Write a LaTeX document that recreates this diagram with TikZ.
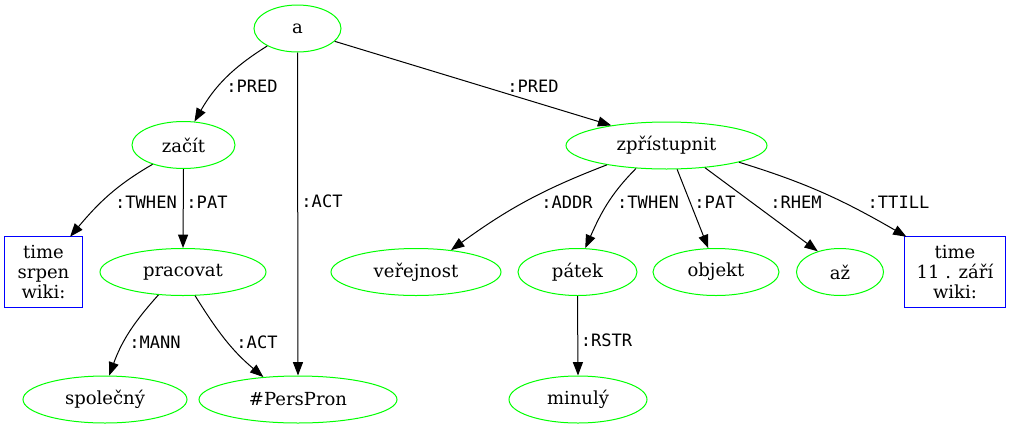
\documentclass[tikz,border=0pt]{standalone}
\usepackage{fontspec}
\setmainfont{DejaVu Serif}
\newfontfamily\lblfont{DejaVu Sans Mono}
\usetikzlibrary{shapes.geometric,arrows.meta}
\definecolor{ngreen}{RGB}{0,255,0}
\definecolor{nblue}{RGB}{0,0,255}
\tikzset{
  word/.style={ellipse,draw=ngreen,line width=0.75pt,inner sep=0pt,minimum height=35.25pt,font=\fontsize{13.5pt}{15pt}\selectfont},
  tbox/.style={rectangle,inner sep=0pt,minimum height=52.5pt,align=center,font=\fontsize{13.5pt}{15pt}\selectfont},
  boxline/.style={draw=nblue,line width=0.75pt},
  edge/.style={line width=0.75pt,-{Triangle[length=10pt,width=7.5pt]}},
  lbl/.style={font=\lblfont\fontsize{12.8pt}{14pt}\selectfont,inner sep=0pt}
}
\begin{document}
\begin{tikzpicture}[x=0.75pt,y=-0.75pt]
\useasboundingbox (0,0) rectangle (1011,429);
% nodes
\node[word,minimum width=65.25pt] (a) at (297.5,28.5) {a};
\node[word,minimum width=77.25pt] (zacit) at (183.5,145) {začít};
\node[word,minimum width=150.75pt] (zpr) at (666.5,145.5) {zpřístupnit};
\node[tbox,minimum width=57.75pt] (srpen) at (43.5,272) {time\\srpen\\wiki:};
\node[word,minimum width=124.5pt] (prac) at (183,272) {pracovat};
\node[word,minimum width=127.5pt] (ver) at (416,272) {veřejnost};
\node[word,minimum width=89.25pt] (patek) at (577.5,272) {pátek};
\node[word,minimum width=94.5pt] (objekt) at (716,272) {objekt};
\node[word,minimum width=65.25pt] (az) at (840,272) {až};
\node[tbox,minimum width=75pt] (zari) at (955,272) {time\\11 . září\\wiki:};
\node[word,minimum width=123pt] (spol) at (105,399.5) {společný};
\node[word,minimum width=148.5pt] (pers) at (298,399.5) {\#PersPron};
\node[word,minimum width=103.5pt] (minuly) at (578,399.5) {minulý};
\draw[boxline] (srpen.north west) rectangle (srpen.south east);
\draw[boxline] (zari.north west) rectangle (zari.south east);
% edges
\draw[edge] (a.210) to[out=212,in=60] (zacit.65);
\draw[edge] (a.south) -- (pers.north);
\draw[edge] (a.341) -- (zpr.160);
\draw[edge] (zacit.212) to[out=210,in=50] (srpen.53);
\draw[edge] (zacit.south) -- (prac.north);
\draw[edge] (prac.223) to[out=228,in=70] (spol.80);
\draw[edge] (prac.297) to[out=-58,in=140] (pers.147);
\draw[edge] (zpr.198) to[out=201,in=36] (ver.32);
\draw[edge] (zpr.217) to[out=225,in=66] (patek.72);
\draw[edge] (zpr.294) -- (objekt.108);
\draw[edge] (zpr.330) -- (az.137);
\draw[edge] (zpr.347) to[out=-17,in=150] (zari.144);
\draw[edge] (patek.south) -- (minuly.north);
% labels
\node[lbl] (l1) at (252,86) {:PRED};
\node[lbl] (l2) at (533,86) {:PRED};
\node[lbl] (l3) at (322,201) {:ACT};
\node[lbl] (l4) at (146,202) {:TWHEN};
\node[lbl] (l5) at (207,202) {:PAT};
\node[lbl] (l6) at (155,342) {:MANN};
\node[lbl] (l7) at (257,342) {:ACT};
\node[lbl] (l8) at (567,202) {:ADDR};
\node[lbl] (l9) at (648,202) {:TWHEN};
\node[lbl] (l10) at (715,202) {:PAT};
\node[lbl] (l11) at (796,202) {:RHEM};
\node[lbl] (l12) at (898.5,202) {:TTILL};
\node[lbl] (l13) at (606.5,340) {:RSTR};
\end{tikzpicture}
\end{document}
